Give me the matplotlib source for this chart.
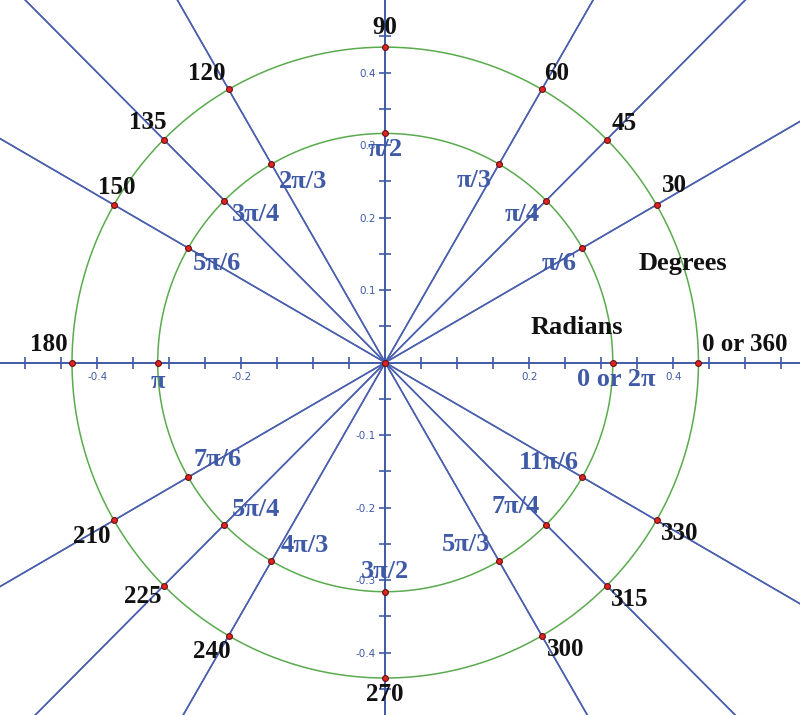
import numpy as np
import matplotlib
matplotlib.use("Agg")
import matplotlib.pyplot as plt

# angles on the unit circle diagram
angles_deg = [0, 30, 45, 60, 90, 120, 135, 150, 180, 210, 225, 240, 270, 300, 315, 330]
deg_labels = ["0 or 360", "30", "45", "60", "90", "120", "135", "150", "180",
              "210", "225", "240", "270", "300", "315", "330"]
rad_labels = ["0 or 2π", "π/6", "π/4", "π/3", "π/2", "2π/3", "3π/4", "5π/6", "π",
              "7π/6", "5π/4", "4π/3", "3π/2", "5π/3", "7π/4", "11π/6"]
r_outer = 0.435
r_inner = 0.316

# label offsets from the dots, in pixels (layout only)
deg_off = {0: (4, 18), 30: (18, 19), 45: (17, 16), 60: (15, 16), 90: (0, 20),
           120: (-22, 16), 135: (-16, 17), 150: (3, 17), 180: (-23, 18),
           210: (-22, -16), 225: (-21, -11), 240: (-17, -16), 270: (0, -16),
           300: (24, -14), 315: (23, -14), 330: (23, -13)}
rad_off = {0: (3, -17), 30: (-23, -15), 45: (-24, -14), 60: (-25, -16), 90: (0, -16),
           120: (32, -17), 135: (32, -14), 150: (29, -15), 180: (0, -19),
           210: (29, 18), 225: (32, 15), 240: (33, 16), 270: (0, 20),
           300: (-33, 17), 315: (-31, 18), 330: (-33, 15)}

blue = "#3f5aa6"
line_blue = "#4a5fae"
green = "#5aaa4e"
serif = ["Liberation Serif", "DejaVu Serif"]

fig = plt.figure(figsize=(8, 7.15), dpi=100)
ax = fig.add_axes([0, 0, 1, 1])
ax.set_xlim(-0.535, 0.576)
ax.set_ylim(-0.486, 0.5)

# spokes through the origin
for a in angles_deg:
    if a % 90 == 0:
        continue
    t = np.radians(a)
    ax.plot([-2 * np.cos(t), 2 * np.cos(t)], [-2 * np.sin(t), 2 * np.sin(t)],
            color=line_blue, lw=1.1, zorder=2)

# circles
th = np.linspace(0, 2 * np.pi, 600)
for r in (r_inner, r_outer):
    ax.plot(r * np.cos(th), r * np.sin(th), color=green, lw=1.1, zorder=2)

# axes through origin
for s in ("top", "right"):
    ax.spines[s].set_visible(False)
for s in ("left", "bottom"):
    ax.spines[s].set_position("zero")
    ax.spines[s].set_color(blue)
    ax.spines[s].set_linewidth(1.4)
    ax.spines[s].set_zorder(3)

xt = np.round(np.arange(-0.5, 0.576, 0.05), 2)
yt = np.round(np.arange(-0.45, 0.5, 0.05), 2)
ax.set_xticks(xt)
ax.set_yticks(yt)
ax.set_xticklabels([f"{v:g}" if abs(v) in (0.2, 0.4) else "" for v in xt])
ax.set_yticklabels([f"{v:g}" if (abs(v) * 10) % 1 < 1e-6 and v != 0 else "" for v in yt])
ax.tick_params(direction="inout", length=9, width=1.2, color=blue,
               labelcolor=blue, labelsize=7.5, pad=2)

# dots
for a in angles_deg:
    t = np.radians(a)
    for r in (r_inner, r_outer):
        ax.plot(r * np.cos(t), r * np.sin(t), "o", ms=4.2, mfc="#e02424",
                mec="#6a1010", mew=0.8, zorder=5)
ax.plot(0, 0, "o", ms=4.2, mfc="#e02424", mec="#6a1010", mew=0.8, zorder=5)

# labels
for a, dl, rl in zip(angles_deg, deg_labels, rad_labels):
    t = np.radians(a)
    dx, dy = deg_off[a]
    ax.annotate(dl, (r_outer * np.cos(t), r_outer * np.sin(t)), xytext=(dx, dy),
                textcoords="offset pixels", ha="left" if a == 0 else "center",
                va="center", fontsize=18, fontweight="bold", family=serif,
                color="#111111", zorder=6)
    dx, dy = rad_off[a]
    ax.annotate(rl, (r_inner * np.cos(t), r_inner * np.sin(t)), xytext=(dx, dy),
                textcoords="offset pixels", ha="center", va="center",
                fontsize=19, fontweight="bold", family=serif, color=blue, zorder=6)

ax.text(0.414, 0.137, "Degrees", fontsize=19, fontweight="bold", family=serif,
        color="#111111", ha="center", va="center")
ax.text(0.266, 0.049, "Radians", fontsize=19, fontweight="bold", family=serif,
        color="#111111", ha="center", va="center")

fig.savefig("out.png", dpi=100)
